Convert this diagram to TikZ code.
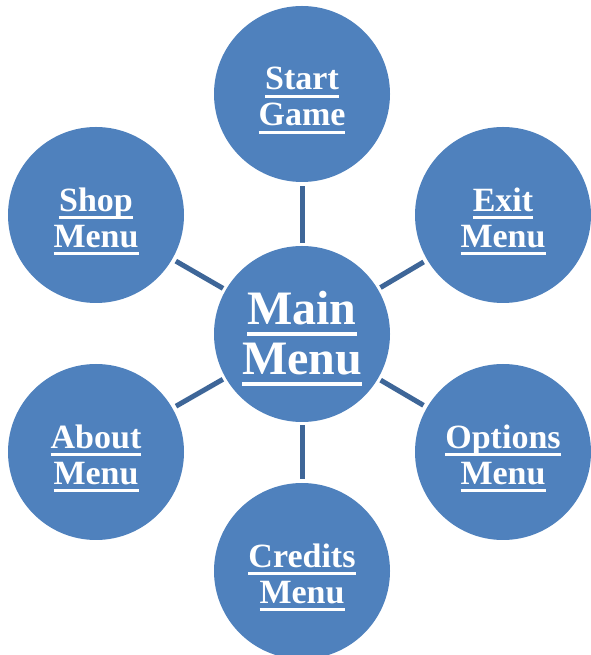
\documentclass[tikz,border=0pt]{standalone}
\usepackage{fontspec}
\setmainfont{Liberation Serif}
\definecolor{bubblefill}{HTML}{4F81BD}
\definecolor{connline}{RGB}{62,102,152}
\newcommand{\ulsm}[1]{\setbox0\hbox{#1}\rlap{\rule[-8pt]{\wd0}{3pt}}\box0}
\newcommand{\ulbig}[1]{\setbox0\hbox{#1}\rlap{\rule[-11pt]{\wd0}{4pt}}\box0}
\tikzset{
  bubble/.style={circle, fill=bubblefill, draw=none, inner sep=0pt, minimum size=176pt},
  smalltxt/.style={text=white, align=center, inner sep=0pt, font={\fontsize{34}{36}\selectfont\bfseries}},
  bigtxt/.style={text=white, align=center, inner sep=0pt, font={\fontsize{48}{50}\selectfont\bfseries}},
  conn/.style={draw=connline, line width=5pt, shorten <=3pt, shorten >=4pt}
}
\begin{document}
\begin{tikzpicture}[x=1pt,y=1pt]
\useasboundingbox (0,0) rectangle (590,655);
\node[bubble] (main) at (302,321) {};
\node[bubble] (start) at (302,561) {};
\node[bubble] (credits) at (302,84) {};
\node[bubble] (shop) at (96,440) {};
\node[bubble] (exit) at (503,440) {};
\node[bubble] (about) at (96,203) {};
\node[bubble] (options) at (503,203) {};

\draw[conn] (main) -- (start);
\draw[conn] (main) -- (credits);
\draw[conn] (main) -- (shop);
\draw[conn] (main) -- (exit);
\draw[conn] (main) -- (about);
\draw[conn] (main) -- (options);

\node[bigtxt] (main-t) at ([yshift=-4.5pt]main.center) {\ulbig{Main}\\\ulbig{Menu}};
\node[smalltxt] (start-t) at ([yshift=-6.5pt]start.center) {\ulsm{Start}\\\ulsm{Game}};
\node[smalltxt] (credits-t) at ([yshift=-6.5pt]credits.center) {\ulsm{Credits}\\\ulsm{Menu}};
\node[smalltxt] (shop-t) at ([yshift=-6.5pt]shop.center) {\ulsm{Shop}\\\ulsm{Menu}};
\node[smalltxt] (exit-t) at ([yshift=-6.5pt]exit.center) {\ulsm{Exit}\\\ulsm{Menu}};
\node[smalltxt] (about-t) at ([yshift=-6.5pt]about.center) {\ulsm{About}\\\ulsm{Menu}};
\node[smalltxt] (options-t) at ([yshift=-6.5pt]options.center) {\ulsm{Options}\\\ulsm{Menu}};
\end{tikzpicture}
\end{document}
